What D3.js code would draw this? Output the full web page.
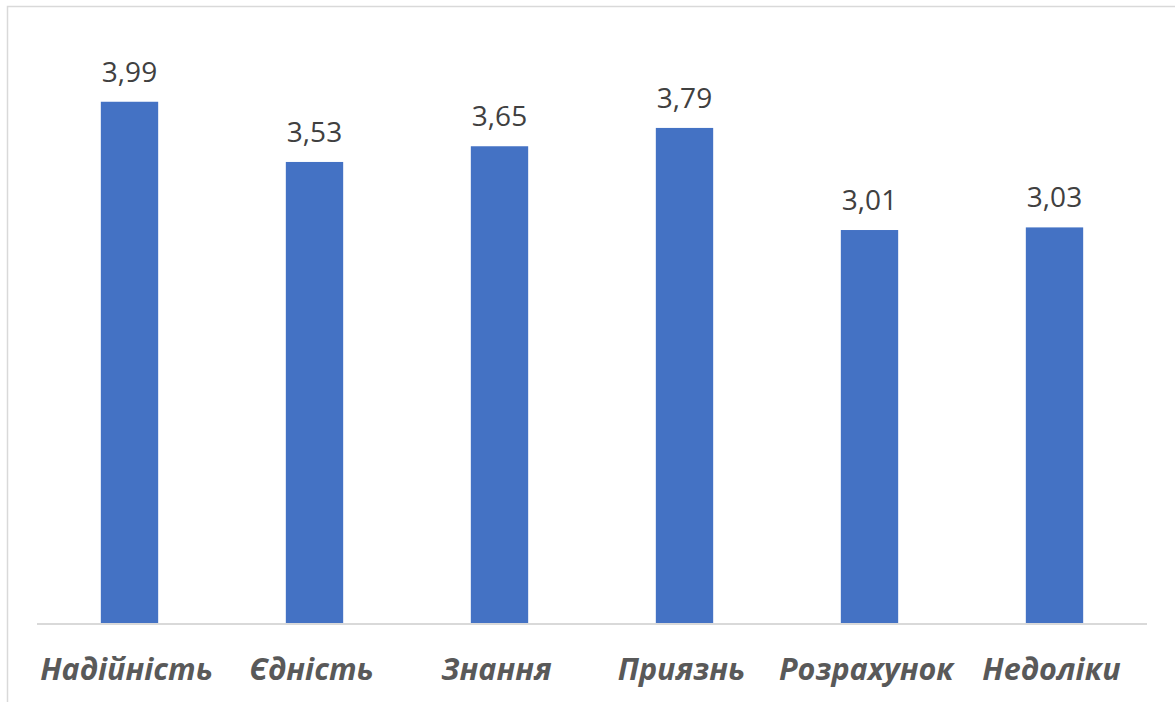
<!DOCTYPE html>
<html>
<head>
<meta charset="utf-8">
<script src="https://cdn.jsdelivr.net/npm/d3@7"></script>
<style>
  html, body { margin: 0; padding: 0; background: #fff; }
  svg { display: block; }
</style>
</head>
<body>
<svg id="chart" width="1175" height="702"></svg>
<script>
// Category names and mean scores
const categories = ["Надійність", "Єдність", "Знання", "Приязнь", "Розрахунок", "Недоліки"];
const values = [3.99, 3.53, 3.65, 3.79, 3.01, 3.03];
const yMax = 4.5;

const svg = d3.select("#chart");
const W = 1175, H = 702;
const plot = { left: 37, right: 1147, top: 35, bottom: 624 };

// chart area frame
svg.append("rect")
  .attr("x", 7.5).attr("y", 6.5)
  .attr("width", W + 20).attr("height", H + 20)
  .attr("fill", "#fff")
  .attr("stroke", "#d9d9d9").attr("stroke-width", 1.5);

const x = d3.scaleBand()
  .domain(categories)
  .range([plot.left, plot.right])
  .paddingInner(0.69)
  .paddingOuter(0.345);

const y = d3.scaleLinear()
  .domain([0, yMax])
  .range([plot.bottom, plot.top]);

const data = categories.map((c, i) => ({ c, v: values[i] }));

svg.append("g").selectAll("rect")
  .data(data)
  .join("rect")
  .attr("x", d => x(d.c))
  .attr("y", d => y(d.v))
  .attr("width", x.bandwidth())
  .attr("height", d => y(0) - y(d.v))
  .attr("fill", "#4472c4");

// value labels
const fmt = v => v.toFixed(2).replace(".", ",");
svg.append("g").selectAll("text")
  .data(data)
  .join("text")
  .attr("x", d => x(d.c) + x.bandwidth() / 2)
  .attr("y", d => y(d.v) - 20)
  .attr("text-anchor", "middle")
  .attr("font-family", "'Open Sans', sans-serif")
  .attr("font-size", 28)
  .attr("fill", "#404040")
  .text(d => fmt(d.v));

// category axis
const axis = svg.append("g")
  .attr("transform", `translate(0,${plot.bottom})`)
  .call(d3.axisBottom(x).tickSize(0).tickPadding(0));
axis.select(".domain")
  .attr("stroke", "#d9d9d9").attr("stroke-width", 2)
  .attr("d", `M${plot.left},0H${plot.right}`);
axis.selectAll(".tick text")
  .attr("dy", null)
  .attr("y", 56)
  .attr("dx", -3)
  .attr("font-family", "'Open Sans', sans-serif")
  .attr("font-size", 30.5)
  .attr("font-weight", "bold")
  .attr("font-style", "italic")
  .attr("fill", "#595959");
</script>
</body>
</html>
